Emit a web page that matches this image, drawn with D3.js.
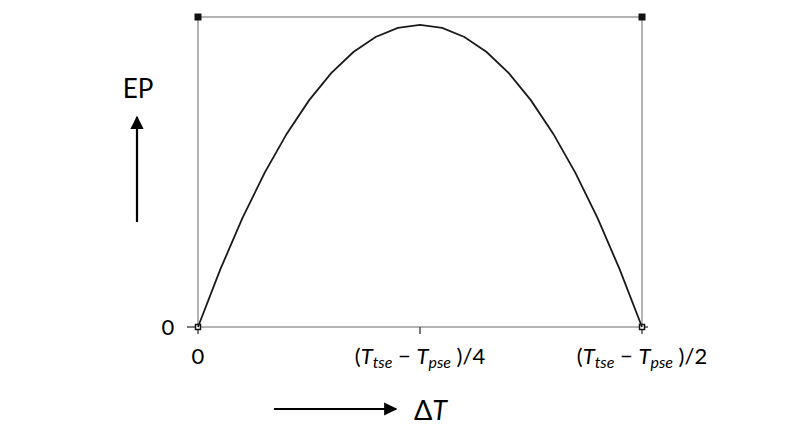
<!DOCTYPE html>
<html>
<head>
<meta charset="utf-8">
<script src="https://cdn.jsdelivr.net/npm/d3@7"></script>
<style>
  body { margin: 0; background: #fff; }
  svg { display: block; font-family: Lato, "Open Sans", sans-serif; }
</style>
</head>
<body>
<svg id="chart" width="790" height="444"></svg>
<script>
// EP versus deltaT, deltaT in units of (Ttse - Tpse)/4
var dT = [0, 0.1, 0.2, 0.3, 0.4, 0.5, 0.6, 0.7, 0.8, 0.9, 1.0,
          1.1, 1.2, 1.3, 1.4, 1.5, 1.6, 1.7, 1.8, 1.9, 2.0];
var ep = [0, 0.19, 0.36, 0.51, 0.64, 0.75, 0.84, 0.91, 0.96, 0.99, 1.0,
          0.99, 0.96, 0.91, 0.84, 0.75, 0.64, 0.51, 0.36, 0.19, 0];
var xTicks = [0, 1, 2];
var xTickLabels = ["0", "/4", "/2"];

var svg = d3.select("#chart");
var x = d3.scaleLinear().domain([0, 2]).range([198, 642]);
var y = d3.scaleLinear().domain([0, 1.026]).range([327, 17]);

var grey = "#8a8a8a";

// frame
svg.append("rect")
    .attr("x", x(0)).attr("y", y(1.026))
    .attr("width", x(2) - x(0)).attr("height", y(0) - y(1.026))
    .attr("fill", "none").attr("stroke", grey).attr("stroke-width", 1.3);

// ticks on bottom axis
svg.append("line").attr("x1", x(0) - 11).attr("x2", x(0)).attr("y1", y(0)).attr("y2", y(0))
    .attr("stroke", "#333").attr("stroke-width", 1.3);
xTicks.forEach(function(t) {
    svg.append("line").attr("x1", x(t)).attr("x2", x(t)).attr("y1", y(0)).attr("y2", y(0) + 7)
        .attr("stroke", "#333").attr("stroke-width", 1.3);
});
svg.append("line").attr("x1", x(2)).attr("x2", x(2) + 6).attr("y1", y(0)).attr("y2", y(0))
    .attr("stroke", "#333").attr("stroke-width", 1.3);

// corner markers
[[0, 1.026, true], [2, 1.026, true], [0, 0, false], [2, 0, false]].forEach(function(c) {
    var s = c[2] ? 7 : 5;
    svg.append("rect")
        .attr("x", x(c[0]) - s / 2).attr("y", y(c[1]) - s / 2)
        .attr("width", s).attr("height", s)
        .attr("fill", c[2] ? "#111" : "#fff")
        .attr("stroke", "#111").attr("stroke-width", c[2] ? 0 : 1.5);
});

// curve
var line = d3.line()
    .x(function(d, i) { return x(dT[i]); })
    .y(function(d) { return y(d); });
svg.append("path")
    .datum(ep)
    .attr("d", line)
    .attr("fill", "none")
    .attr("stroke", "#1a1a1a")
    .attr("stroke-width", 1.8);

// axis labels
svg.append("text").attr("x", x(0) - 30).attr("y", y(0) + 8)
    .attr("font-size", 22).attr("text-anchor", "middle").text("0");
svg.append("text").attr("x", x(0)).attr("y", 364)
    .attr("font-size", 22).attr("text-anchor", "middle").text(xTickLabels[0]);

function fracLabel(cx, tail) {
    var t = svg.append("text").attr("x", cx).attr("y", 364)
        .attr("font-size", 22).attr("text-anchor", "middle");
    t.append("tspan").text("(");
    t.append("tspan").attr("font-style", "italic").text("T");
    t.append("tspan").attr("font-style", "italic").attr("font-size", 16).attr("dy", 4).text("tse");
    t.append("tspan").attr("dy", -4).text(" \u2212 ");
    t.append("tspan").attr("font-style", "italic").text("T");
    t.append("tspan").attr("font-style", "italic").attr("font-size", 16).attr("dy", 4).text("pse");
    t.append("tspan").attr("dy", -4).text(" )" + tail);
}
fracLabel(x(1), xTickLabels[1]);
fracLabel(x(2), xTickLabels[2]);

// arrows
var defs = svg.append("defs");
defs.append("marker").attr("id", "ah")
    .attr("viewBox", "0 0 10 10").attr("refX", 9).attr("refY", 5)
    .attr("markerWidth", 6).attr("markerHeight", 6)
    .attr("markerUnits", "strokeWidth").attr("orient", "auto")
    .append("path").attr("d", "M0,0 L10,5 L0,10 z").attr("fill", "#000");

svg.append("line").attr("x1", 137).attr("y1", 222).attr("x2", 137).attr("y2", 117)
    .attr("stroke", "#000").attr("stroke-width", 2.2).attr("marker-end", "url(#ah)");
svg.append("line").attr("x1", 274).attr("y1", 409).attr("x2", 396).attr("y2", 409)
    .attr("stroke", "#000").attr("stroke-width", 2.2).attr("marker-end", "url(#ah)");

svg.append("text").attr("x", 138).attr("y", 98)
    .attr("font-size", 26).attr("text-anchor", "middle").text("EP");

var dl = svg.append("text").attr("x", 414).attr("y", 420).attr("font-size", 27);
dl.append("tspan").text("\u0394");
dl.append("tspan").attr("font-style", "italic").text("T");
</script>
</body>
</html>
